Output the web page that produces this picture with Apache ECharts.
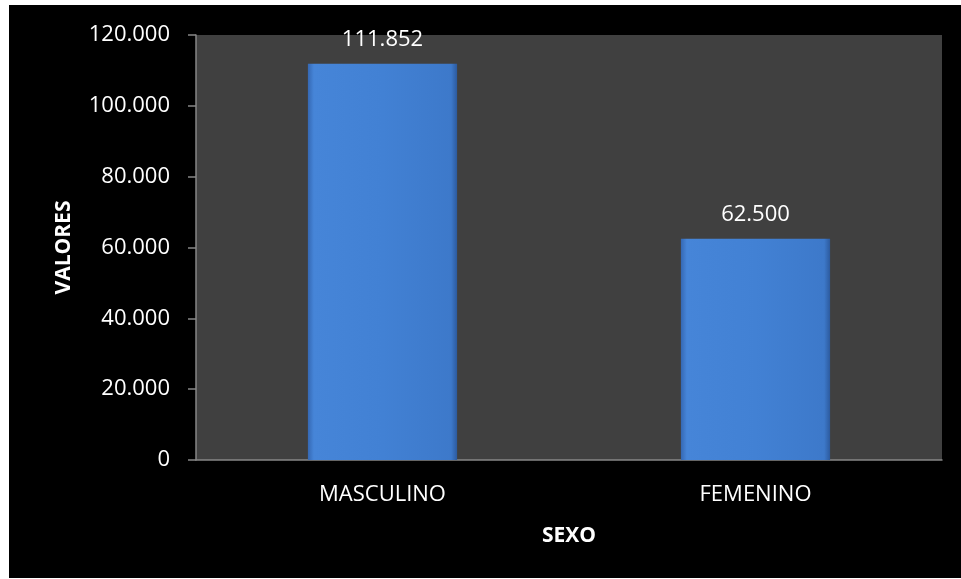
<!DOCTYPE html>
<html>
<head>
<meta charset="utf-8">
<script src="https://cdn.jsdelivr.net/npm/echarts@6/dist/echarts.min.js"></script>
<style>
html,body{margin:0;padding:0;background:#ffffff;width:961px;height:579px;overflow:hidden;}
#chart{position:absolute;left:9px;top:5px;width:952px;height:573px;}
</style>
</head>
<body>
<div id="chart"></div>
<script>
var categories = ['MASCULINO', 'FEMENINO'];
var values = [111852, 62500];
var yTicks = [0, 20000, 40000, 60000, 80000, 100000, 120000];

function fmt(v) {
  var s = String(Math.round(v));
  return s.replace(/\B(?=(\d{3})+(?!\d))/g, '.');
}

var font = "'Open Sans', 'Liberation Sans', sans-serif";
var chart = echarts.init(document.getElementById('chart'));
chart.setOption({
  backgroundColor: '#000000',
  animation: false,
  grid: {
    left: 187, right: 19, top: 30, bottom: 118,
    show: true, backgroundColor: '#404040', borderWidth: 0
  },
  xAxis: {
    type: 'category',
    data: categories,
    name: 'SEXO',
    nameLocation: 'middle',
    nameGap: 66,
    nameTextStyle: { color: '#ffffff', fontFamily: font, fontSize: 21, fontWeight: 'bold' },
    axisLine: { show: true, lineStyle: { color: '#868686', width: 1.5 } },
    axisTick: { show: false },
    axisLabel: { color: '#ffffff', fontFamily: font, fontSize: 22, margin: 24 }
  },
  yAxis: {
    type: 'value',
    min: yTicks[0],
    max: yTicks[yTicks.length - 1],
    interval: 20000,
    name: 'VALORES',
    nameLocation: 'middle',
    nameRotate: 90,
    nameGap: 121,
    nameTextStyle: { color: '#ffffff', fontFamily: font, fontSize: 21, fontWeight: 'bold' },
    axisLine: { show: true, lineStyle: { color: '#868686', width: 1.5 } },
    axisTick: { show: true, length: 8, lineStyle: { color: '#868686', width: 1.5 } },
    splitLine: { show: false },
    axisLabel: { color: '#ffffff', fontFamily: font, fontSize: 22, margin: 26, formatter: fmt }
  },
  series: [{
    type: 'bar',
    data: values,
    barWidth: '40%',
    itemStyle: {
      color: {
        type: 'linear', x: 0, y: 0, x2: 1, y2: 0,
        colorStops: [
          { offset: 0, color: '#3568b3' },
          { offset: 0.04, color: '#4685d8' },
          { offset: 0.5, color: '#4281d4' },
          { offset: 0.96, color: '#3d79ca' },
          { offset: 1, color: '#2c5a9e' }
        ]
      },
      borderWidth: 0
    },
    label: {
      show: true,
      position: 'top',
      distance: 13,
      color: '#ffffff',
      fontFamily: font,
      fontSize: 22,
      formatter: function (p) { return fmt(p.value); }
    }
  }]
});
</script>
</body>
</html>
